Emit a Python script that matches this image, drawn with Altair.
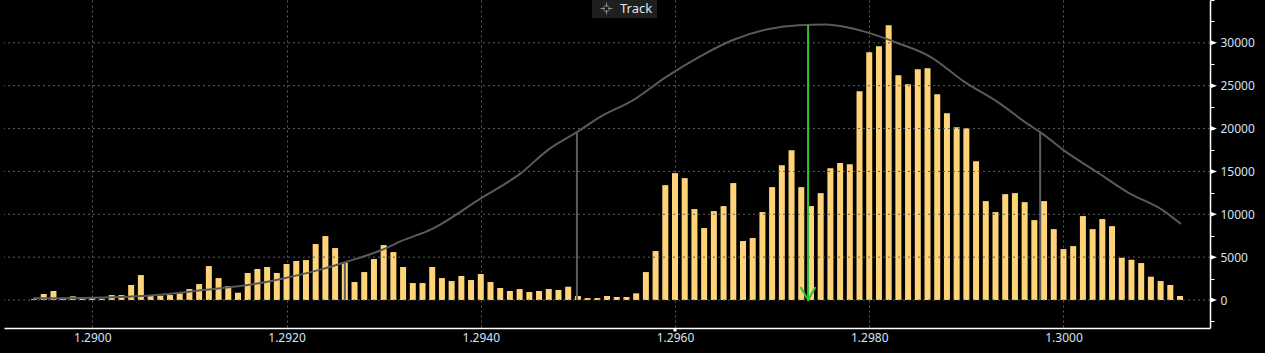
import altair as alt
import pandas as pd

# ---- data ----
prices = [
    1.2894, 1.2895, 1.2896, 1.2897, 1.2898, 1.2899, 1.2900, 1.2901, 1.2902, 1.2903,
    1.2904, 1.2905, 1.2906, 1.2907, 1.2908, 1.2909, 1.2910, 1.2911, 1.2912, 1.2913,
    1.2914, 1.2915, 1.2916, 1.2917, 1.2918, 1.2919, 1.2920, 1.2921, 1.2922, 1.2923,
    1.2924, 1.2925, 1.2926, 1.2927, 1.2928, 1.2929, 1.2930, 1.2931, 1.2932, 1.2933,
    1.2934, 1.2935, 1.2936, 1.2937, 1.2938, 1.2939, 1.2940, 1.2941, 1.2942, 1.2943,
    1.2944, 1.2945, 1.2946, 1.2947, 1.2948, 1.2949, 1.2950, 1.2951, 1.2952, 1.2953,
    1.2954, 1.2955, 1.2956, 1.2957, 1.2958, 1.2959, 1.2960, 1.2961, 1.2962, 1.2963,
    1.2964, 1.2965, 1.2966, 1.2967, 1.2968, 1.2969, 1.2970, 1.2971, 1.2972, 1.2973,
    1.2974, 1.2975, 1.2976, 1.2977, 1.2978, 1.2979, 1.2980, 1.2981, 1.2982, 1.2983,
    1.2984, 1.2985, 1.2986, 1.2987, 1.2988, 1.2989, 1.2990, 1.2991, 1.2992, 1.2993,
    1.2994, 1.2995, 1.2996, 1.2997, 1.2998, 1.2999, 1.3000, 1.3001, 1.3002, 1.3003,
    1.3004, 1.3005, 1.3006, 1.3007, 1.3008, 1.3009, 1.3010, 1.3011, 1.3012,
]
volumes = [
    100, 700, 1050, 150, 430, 150, 200, 150, 580, 580,
    1750, 2910, 500, 500, 580, 780, 1280, 1860, 3960, 2560,
    1630, 850, 3150, 3610, 3850, 3150, 4200, 4550, 4660, 6530,
    7460, 6060, 4350, 2100, 3260, 4780, 6410, 5590, 3850, 1980,
    1980, 3850, 2560, 2210, 2800, 2330, 3030, 2100, 1400, 1050,
    1280, 930, 1050, 1280, 1170, 1550, 470, 230, 230, 470,
    350, 350, 780, 3260, 5710, 13400, 14800, 14220, 10610, 8390,
    10370, 10960, 13640, 6880, 7230, 10260, 13170, 15730, 17480, 13170,
    10960, 12470, 15380, 15970, 15850, 24360, 28900, 29600, 32050, 26220,
    25170, 26920, 27040, 24010, 21790, 20160, 20050, 16200, 11540, 10260,
    12350, 12470, 11420, 9320, 11540, 8270, 5940, 6290, 9790, 8270,
    9440, 8620, 4930, 4700, 4310, 2720, 2210, 1750, 470,
]

curve_prices = [
    1.28939, 1.29000, 1.29063, 1.29114, 1.29165, 1.29200, 1.29237, 1.29260,
    1.29298, 1.29319, 1.29349, 1.29400, 1.29441, 1.29469, 1.29499, 1.29523,
    1.29557, 1.29591, 1.29625, 1.29659, 1.29694, 1.29727, 1.29755, 1.29778,
    1.29802, 1.29829, 1.29863, 1.29898, 1.29932, 1.29965, 1.29976, 1.30000,
    1.30034, 1.30067, 1.30102, 1.30121,
]
curve_values = [
    200, 270, 550, 1170, 1830, 2600, 3600, 4400,
    5830, 6920, 8240, 11850, 14770, 17490, 19590, 21370,
    23320, 26030, 28370, 30310, 31560, 32060, 32140, 31790,
    31080, 29990, 28370, 25450, 23120, 20400, 19590, 17490,
    14960, 12510, 10490, 8860,
]

band_prices = [1.29260, 1.29499, 1.29976]
band_tops = [4400, 19590, 19590]

peak_price = [1.29737]
peak_value = [32080]

cursor_price = [1.2960]

x_ticks = [1.2900, 1.2920, 1.2940, 1.2960, 1.2980, 1.3000]
y_ticks = [-2500, 0, 2500, 5000, 7500, 10000, 12500, 15000, 17500, 20000,
           22500, 25000, 27500, 30000, 32500, 35000]
y_major = [0, 5000, 10000, 15000, 20000, 25000, 30000]

legend_label = ["Track"]

# ---- tables ----
bars_df = pd.DataFrame({"price": prices, "volume": volumes, "base": 0})
curve_df = pd.DataFrame({"price": curve_prices, "value": curve_values})
band_df = pd.DataFrame({"price": band_prices, "top": band_tops, "base": 0})
peak_df = pd.DataFrame({"price": peak_price, "top": peak_value, "base": 0})
grid_df = pd.DataFrame({"v": y_major})
major_df = pd.DataFrame({"v": y_major})
cursor_df = pd.DataFrame({"price": cursor_price, "y": [-3265]})
legend_df = pd.DataFrame({"label": legend_label})

X_DOMAIN = [1.2891422, 1.3014572]
Y_DOMAIN = [-3265, 35000]
FONT = "Noto Sans"
LABEL_COLOR = "#d2e3f6"

xs = alt.Scale(domain=X_DOMAIN, nice=False, zero=False)
ys = alt.Scale(domain=Y_DOMAIN, nice=False, zero=False)

x_axis = alt.Axis(
    orient="bottom", values=x_ticks, format=".4f", title=None,
    ticks=False, grid=True, gridColor="#5e5e5e", gridDash=[2, 3],
    gridWidth=1, domainColor="#ffffff", domainWidth=1.5,
    labelColor=LABEL_COLOR, labelFont=FONT, labelFontSize=12,
    labelPadding=4,
)
y_axis = alt.Axis(
    orient="right", values=y_ticks, title=None, grid=False,
    labelExpr="(datum.value >= 0 && datum.value <= 30000 && datum.value % 5000 == 0) ? format(datum.value, 'd') : ''",
    tickColor="#ffffff", tickSize=4, tickWidth=1,
    domainColor="#ffffff", domainWidth=1.5,
    labelColor=LABEL_COLOR, labelFont=FONT, labelFontSize=12,
    labelPadding=6,
)


def X(field):
    return alt.X(field, scale=xs, axis=x_axis)


def Y(field):
    return alt.Y(field, scale=ys, axis=y_axis)


bars = alt.Chart(bars_df).mark_bar(color="#ffd479", size=6).encode(
    x=X("price:Q"), y=Y("volume:Q"), y2="base:Q",
)

grid_layer = alt.Chart(grid_df).mark_rule(
    color="#5e5e5e", strokeWidth=1, strokeDash=[2, 3]
).encode(y=Y("v:Q"))

curve = alt.Chart(curve_df).mark_line(
    color="#5a5a5a", strokeWidth=2, interpolate="monotone"
).encode(x=X("price:Q"), y=Y("value:Q"))

bands = alt.Chart(band_df).mark_rule(color="#5c5c5c", strokeWidth=2).encode(
    x=X("price:Q"), y=Y("top:Q"), y2="base:Q",
)

peak_line = alt.Chart(peak_df).mark_rule(color="#2fc42f", strokeWidth=2).encode(
    x=X("price:Q"), y=Y("top:Q"), y2="base:Q",
)

arrow_head = alt.Chart(peak_df).mark_point(
    shape="M-1,-1.73L0,0L1,-1.73", filled=False, color="#2fc42f",
    strokeWidth=2, size=225, opacity=1,
).encode(x=X("price:Q"), y=Y("base:Q"))

triangles = alt.Chart(major_df).mark_point(
    shape="M-1,-0.75L1,0L-1,0.75Z", filled=True, color="#ffffff",
    size=36, opacity=1,
).encode(x=alt.value(1210), y=Y("v:Q"))

cursor_mark = alt.Chart(cursor_df).mark_square(
    color="#ffffff", size=9, opacity=1, yOffset=2
).encode(x=X("price:Q"), y=Y("y:Q"))

legend_box = alt.Chart(legend_df).mark_rect(color="#1f1f1f").encode(
    x=alt.value(588), x2=alt.value(653), y=alt.value(0), y2=alt.value(18)
)
legend_icon = alt.Chart(legend_df).mark_point(
    shape="M-0.5,0A0.5,0.5,0,1,1,0.5,0A0.5,0.5,0,1,1,-0.5,0M-1,0L-0.25,0M0.25,0L1,0M0,-1L0,-0.25M0,0.25L0,1",
    filled=False, color="#8a8a8a", strokeWidth=1, size=144, opacity=1,
).encode(x=alt.value(602.5), y=alt.value(8.5))
legend_text = alt.Chart(legend_df).mark_text(
    align="left", baseline="middle", font=FONT, fontSize=13, color="#dfe4ec"
).encode(x=alt.value(616), y=alt.value(8.5), text="label:N")

chart = alt.layer(
    bars, grid_layer, curve, bands, peak_line, arrow_head, triangles,
    cursor_mark, legend_box, legend_icon, legend_text,
).properties(
    width=1206, height=328,
    autosize=alt.AutoSizeParams(type="none"),
    padding={"left": 4, "top": 0, "right": 55, "bottom": 25},
    background="#000000",
).configure_view(stroke=None)

chart.save("out.html", embed_options={"renderer": "svg", "actions": False})
